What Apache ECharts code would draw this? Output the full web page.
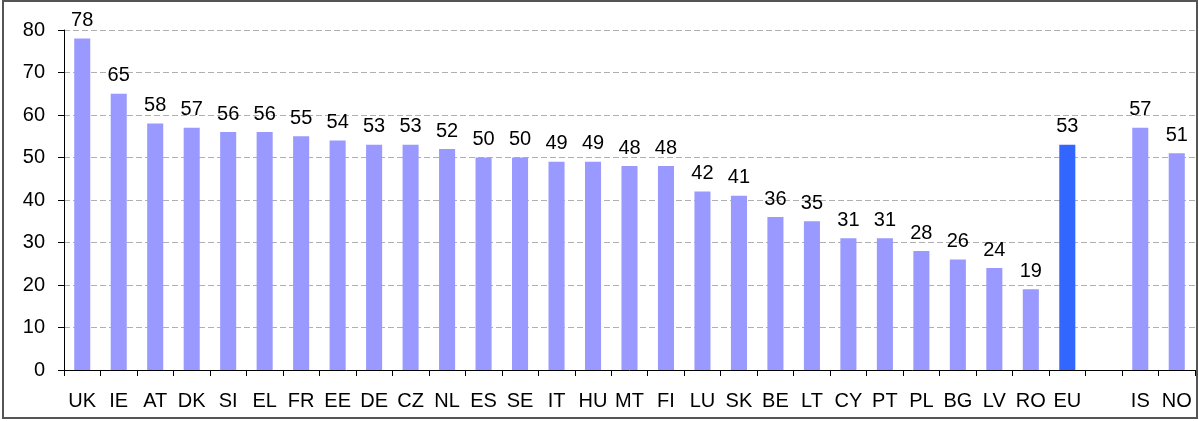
<!DOCTYPE html>
<html>
<head>
<meta charset="utf-8">
<script src="https://cdn.jsdelivr.net/npm/echarts@6/dist/echarts.min.js"></script>
<style>
    html, body { margin: 0; padding: 0; background: #fff; }
    #chart { width: 1199px; height: 421px; }
</style>
</head>
<body>
<div id="chart"></div>
<script>
// country codes, empty slot before the non-EU pair
const countries = ['UK', 'IE', 'AT', 'DK', 'SI', 'EL', 'FR', 'EE', 'DE', 'CZ', 'NL', 'ES', 'SE', 'IT',
    'HU', 'MT', 'FI', 'LU', 'SK', 'BE', 'LT', 'CY', 'PT', 'PL', 'BG', 'LV', 'RO', 'EU', '', 'IS', 'NO'];
const values = [78, 65, 58, 57, 56, 56, 55, 54, 53, 53, 52, 50, 50, 49,
    49, 48, 48, 42, 41, 36, 35, 31, 31, 28, 26, 24, 19, 53, null, 57, 51];
const highlight = 'EU';

const FONT = 'Liberation Sans, Arial, sans-serif';

const chart = echarts.init(document.getElementById('chart'));

const barData = values.map((v, i) => {
    if (v === null) return '-';
    return {
        value: v,
        itemStyle: {color: countries[i] === highlight ? '#3366ff' : '#9999ff'}
    };
});

chart.setOption({
    animation: false,
    grid: {left: 64, right: 4, top: 30, bottom: 51},
    graphic: [{
        type: 'rect',
        shape: {x: 3, y: 1, width: 1194, height: 417},
        style: {fill: 'none', stroke: '#555', lineWidth: 2},
        silent: true
    }],
    xAxis: {
        type: 'category',
        data: countries,
        axisLine: {lineStyle: {color: '#000', width: 1}},
        axisTick: {show: true, alignWithLabel: false, length: 6, lineStyle: {color: '#000'}},
        axisLabel: {color: '#000', fontSize: 20, fontFamily: FONT, margin: 21, interval: 0},
        splitLine: {show: false}
    },
    yAxis: {
        type: 'value',
        min: 0,
        max: 80,
        interval: 10,
        axisLine: {show: true, lineStyle: {color: '#000', width: 1}},
        axisTick: {show: true, length: 6, lineStyle: {color: '#000'}},
        axisLabel: {color: '#000', fontSize: 20, fontFamily: FONT, margin: 19},
        splitLine: {lineStyle: {color: '#b0b0b0', type: [6, 3], width: 1}}
    },
    series: [{
        type: 'bar',
        data: barData,
        barWidth: '44%',
        label: {
            show: true,
            position: 'top',
            distance: 8,
            color: '#000',
            fontSize: 20,
            fontFamily: FONT
        },
        silent: true
    }]
});
</script>
</body>
</html>
